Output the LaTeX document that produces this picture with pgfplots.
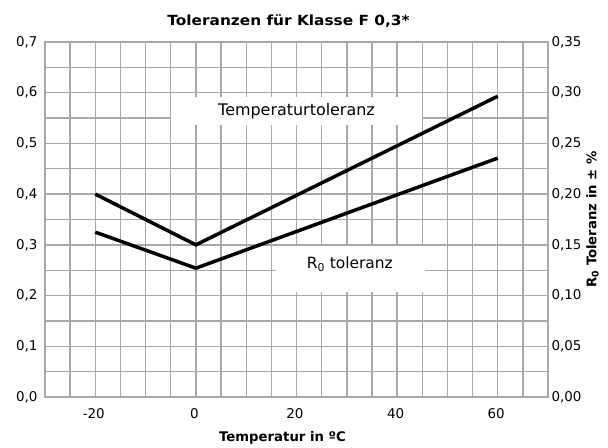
\documentclass[border=0pt]{standalone}
\usepackage{fontspec}
\setmainfont{DejaVu Sans}
\usepackage{pgfplots}
\pgfplotsset{compat=1.18}
\definecolor{gridgray}{RGB}{168,168,168}
\begin{document}
\begin{tikzpicture}
\pgfplotsset{
  every axis/.append style={
    scale only axis, width=503bp, height=355bp,
    xmin=-30, xmax=70,
    /pgf/number format/assume math mode=true,
    /pgf/number format/use comma,
    tick style={draw=none},
    tick label style={font=\fontsize{13.5}{15}\selectfont},
    label style={font=\bfseries\fontsize{13.3}{15}\selectfont},
  }
}
\begin{axis}[name=main,
  ymin=0, ymax=0.7,
  xtick={-20,0,20,40,60},
  minor xtick={-30,-25,...,70},
  ytick={0,0.1,0.2,0.3,0.4,0.5,0.6,0.7},
  minor ytick={0.05,0.15,0.25,0.35,0.45,0.55,0.65},
  yticklabel style={xshift=-4bp,/pgf/number format/.cd,fixed,fixed zerofill,precision=1},
  xticklabel style={yshift=-8bp,xshift=-1.5bp,/pgf/number format/.cd,fixed,precision=0},
  grid=both,
  major grid style={draw=gridgray, line width=1.4bp},
  minor grid style={draw=gridgray, line width=1.4bp},
  axis line style={draw=gridgray, line width=1.4bp},
  xlabel={Temperatur in ºC},
  title={\scalebox{1.1}[1]{Toleranzen für Klasse F 0,3*}},
  title style={font=\bfseries\fontsize{14}{16}\selectfont, yshift=5bp, xshift=-8bp},
  xlabel style={yshift=-6bp, xshift=-14bp},
]
\fill[white] (axis cs:-5,0.536) rectangle (axis cs:45,0.591);
\fill[white] (axis cs:16,0.2065) rectangle (axis cs:45.5,0.297);
\node[font=\fontsize{16}{18}\selectfont] at (axis cs:20,0.563) {Temperaturtoleranz};
\node[font=\fontsize{15.5}{17}\selectfont] at (axis cs:30.6,0.261) {R\textsubscript{0} toleranz};
\addplot[black, line width=3.5bp] coordinates {(-20,0.40) (0,0.30) (60,0.593)};
\end{axis}
\begin{axis}[
  ymin=0, ymax=0.35,
  axis x line=none,
  axis y line*=right,
  axis line style={draw=gridgray, line width=1.4bp},
  ytick={0,0.05,0.1,0.15,0.2,0.25,0.3,0.35},
  yticklabel style={/pgf/number format/.cd,fixed,fixed zerofill,precision=2},
  ylabel={R\textsubscript{0} Toleranz in ± \%},
  ylabel style={yshift=2bp},
]
\addplot[black, line width=3.5bp] coordinates {(-20,0.1625) (0,0.127) (60,0.2355)};
\end{axis}
\pgfresetboundingbox
\path[use as bounding box] ([shift={(-45bp,-51bp)}]main.south west) rectangle ([shift={(60bp,42bp)}]main.north east);
\end{tikzpicture}
\end{document}
